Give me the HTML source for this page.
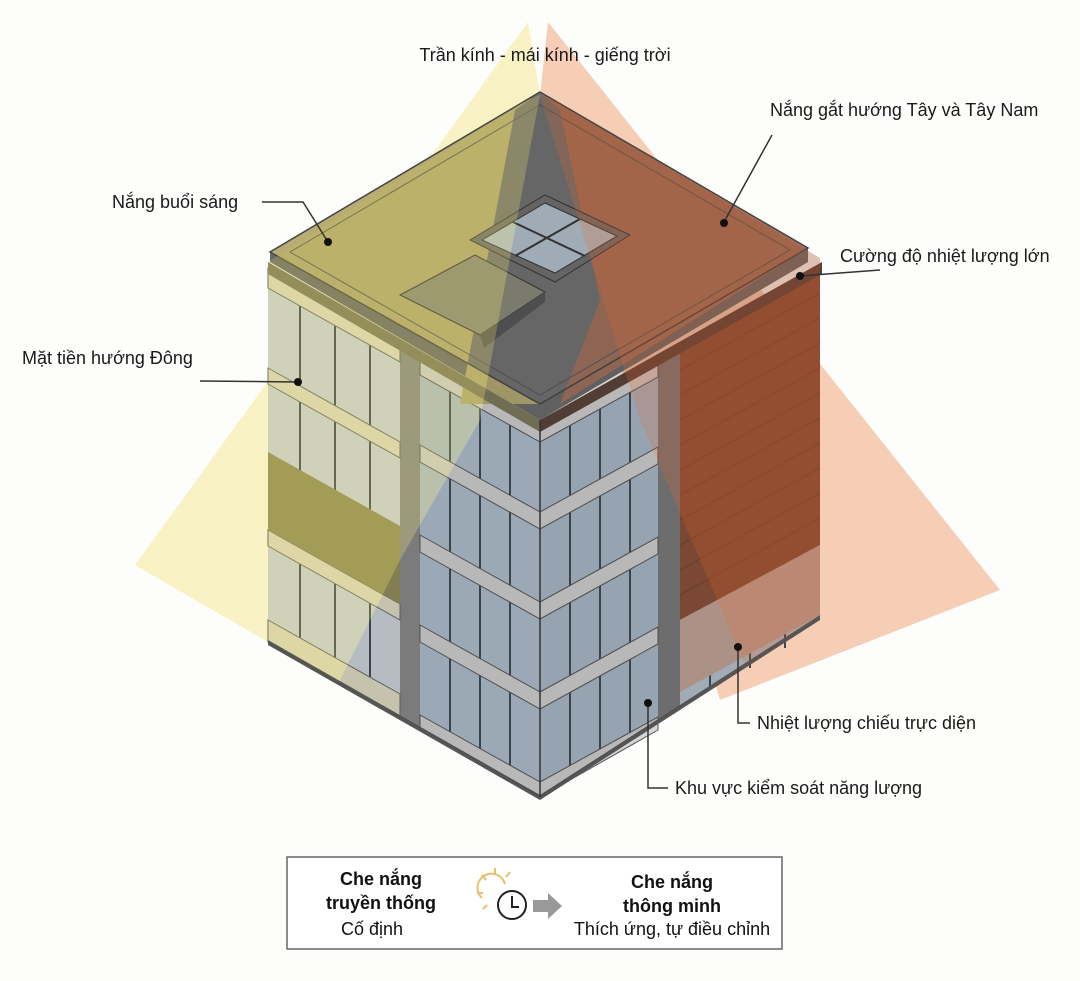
<!DOCTYPE html>
<html><head><meta charset="utf-8"><style>
body{margin:0;background:#fff;width:1080px;height:981px;overflow:hidden;font-family:"Liberation Sans","Noto Sans CJK SC",sans-serif}
svg{position:absolute;left:0;top:0}
</style></head><body>
<svg width="1080" height="981" viewBox="0 0 1080 981" xmlns="http://www.w3.org/2000/svg">
<defs>
<clipPath id="bld"><polygon points="540,92 820,258 820,615 540,797 268,640 268,262"/></clipPath>
</defs>
<rect width="1080" height="981" fill="#fdfdfb"/>
<polygon points="528,22 135,565 420,730 540,95" fill="#f8f2c4"/>
<polygon points="548,22 1000,590 720,700 540,95" fill="#f6cdb5"/>

<g>
<polygon points="268,268 540,420 540,795 268,640" fill="#d3dbe2"/>
<polygon points="540,420 820,265 820,615 540,795" fill="#b9c6d3"/>
<polygon points="420,358 540,425 540,795 420,728" fill="#b3c3d3"/>
<polygon points="540,425 658,360 658,720 540,795" fill="#acbdce"/>
<polygon points="400,342 420,353 420,728 400,716" fill="#8c8c8c"/>
<polygon points="658,355 680,343 680,706 658,720" fill="#7a7a7a"/>
<g stroke="#3d4650" stroke-width="2">
<line x1="450" y1="375" x2="450" y2="745"/><line x1="480" y1="392" x2="480" y2="762"/><line x1="510" y1="408" x2="510" y2="778"/>
<line x1="570" y1="408" x2="570" y2="778"/><line x1="600" y1="392" x2="600" y2="762"/><line x1="630" y1="375" x2="630" y2="745"/>
<line x1="300" y1="285" x2="300" y2="655"/><line x1="335" y1="305" x2="335" y2="675"/><line x1="370" y1="325" x2="370" y2="695"/>
<line x1="710" y1="330" x2="710" y2="690"/><line x1="750" y1="308" x2="750" y2="668"/><line x1="785" y1="288" x2="785" y2="648"/>
</g>
<g fill="#d6d6d6" stroke="#555" stroke-width="1">
<polygon points="420,358 540,425 540,442 420,375"/><polygon points="540,425 658,360 658,377 540,442"/>
<polygon points="420,445 540,512 540,529 420,462"/><polygon points="540,512 658,447 658,464 540,529"/>
<polygon points="420,535 540,602 540,619 420,552"/><polygon points="540,602 658,537 658,554 540,619"/>
<polygon points="420,625 540,692 540,709 420,642"/><polygon points="540,692 658,627 658,644 540,709"/>
<polygon points="420,715 540,782 540,797 420,730"/><polygon points="540,782 658,717 658,730 540,797"/>
</g>
<g fill="#e6e3c8" stroke="#666" stroke-width="1">
<polygon points="268,268 400,342 400,362 268,288"/>
<polygon points="268,368 400,442 400,458 268,384"/>
<polygon points="268,530 400,604 400,620 268,546"/>
<polygon points="268,620 400,694 400,716 268,642"/>
</g>
<polygon points="268,452 400,526 400,604 268,530" fill="#948f58"/>
<polygon points="680,345 820,268 820,545 680,620" fill="#8a4d35"/>
<g stroke="#6e3a26" stroke-width="1" opacity="0.6">
<line x1="680" y1="370" x2="820" y2="293"/><line x1="680" y1="395" x2="820" y2="318"/><line x1="680" y1="420" x2="820" y2="343"/><line x1="680" y1="445" x2="820" y2="368"/><line x1="680" y1="470" x2="820" y2="393"/><line x1="680" y1="495" x2="820" y2="418"/><line x1="680" y1="520" x2="820" y2="443"/><line x1="680" y1="545" x2="820" y2="468"/><line x1="680" y1="570" x2="820" y2="493"/><line x1="680" y1="595" x2="820" y2="518"/>
</g>
<polygon points="680,620 820,545 820,615 680,692" fill="#c7a79a"/>
<polygon points="268,640 540,795 540,800 268,645" fill="#555"/>
<polygon points="540,795 820,615 820,620 540,800" fill="#555"/>
</g>

<polygon points="540,92 808,248 808,262 540,420 270,262 270,252" fill="#6b6b6b"/>
<polygon points="540,92 808,248 540,404 270,252" fill="#727272"/>
<polygon points="540,92 270,252 540,404 460,404 515,110" fill="#b7ad74"/>
<polygon points="540,92 808,248 560,404 600,300 560,110" fill="#a3715b"/>
<polygon points="540,92 808,248 540,404 270,252" fill="none" stroke="#444" stroke-width="1.5"/>
<polygon points="540,105 790,250 540,395 290,252" fill="none" stroke="#555" stroke-width="1"/>
<polygon points="268,262 540,420 540,432 268,274" fill="#7d7a5c"/>
<polygon points="540,420 822,262 822,274 540,432" fill="#5a4036"/>
<polygon points="470,240 545,195 630,235 555,282" fill="#6f6f6f" stroke="#333"/>
<polygon points="482,240 545,203 617,236 555,273" fill="#b8c6d2" stroke="#333"/>
<line x1="513" y1="222" x2="585" y2="256" stroke="#333" stroke-width="2"/>
<line x1="515" y1="256" x2="580" y2="219" stroke="#333" stroke-width="2"/>
<polygon points="400,295 475,255 545,292 480,335" fill="#8b8b7a" stroke="#333"/>
<polygon points="480,335 545,292 545,302 484,348" fill="#555"/>

<g clip-path="url(#bld)">
<polygon points="540,95 480,420 400,560 330,700 200,700 200,250" fill="#c8bd55" opacity="0.3"/>
<polygon points="540,95 480,420 400,560 330,700 540,820 760,700 700,560 640,420" fill="#333" opacity="0.18"/>
<polygon points="540,95 640,420 700,560 760,700 900,700 900,250" fill="#a4502a" opacity="0.35"/>
</g>
<line x1="540" y1="420" x2="540" y2="797" stroke="#333" stroke-width="1.5"/>

<g font-size="18" fill="#1a1a1a">
<text x="545" y="61" text-anchor="middle">Trần kính - mái kính - giếng trời</text>
<text x="770" y="116">Nắng  gắt hướng Tây và Tây Nam</text>
<text x="112" y="208">Nắng buổi sáng</text>
<text x="840" y="262">Cường độ nhiệt lượng lớn</text>
<text x="22" y="364">Mặt tiền hướng Đông</text>
<text x="757" y="729">Nhiệt lượng chiếu trực diện</text>
<text x="675" y="794">Khu vực kiểm soát năng lượng</text>
</g>
<g stroke="#333" stroke-width="1.5" fill="none">
<polyline points="772,135 724,222"/>
<polyline points="262,202 303,202 328,242"/>
<polyline points="880,270 800,276"/>
<polyline points="200,381 298,382"/>
<polyline points="738,647 738,723 750,723"/>
<polyline points="648,703 648,788 668,788"/>
</g>
<g fill="#111">
<circle cx="724" cy="223" r="4"/><circle cx="328" cy="242" r="4"/><circle cx="800" cy="276" r="4"/><circle cx="298" cy="382" r="4"/><circle cx="738" cy="647" r="4"/><circle cx="648" cy="703" r="4"/>
</g>

<rect x="287" y="857" width="495" height="92" fill="#fff" stroke="#666" stroke-width="1.5"/>
<g font-size="18" fill="#111" text-anchor="middle">
<text x="381" y="885" font-weight="bold">Che nắng</text>
<text x="381" y="909" font-weight="bold">truyền thống</text>
<text x="372" y="935">Cố định</text>
<text x="672" y="888" font-weight="bold">Che nắng</text>
<text x="672" y="912" font-weight="bold">thông minh</text>
<text x="672" y="935">Thích ứng, tự điều chỉnh</text>
</g>
<g stroke="#e9c06a" stroke-width="2">
<path d="M482,898 A14,14 0 1 1 505,884" fill="none"/>
<line x1="495" y1="868" x2="495" y2="874"/><line x1="477" y1="893" x2="483" y2="893"/><line x1="482" y1="875" x2="486" y2="880"/><line x1="510" y1="872" x2="506" y2="877"/><line x1="483" y1="909" x2="487" y2="905"/>
</g>
<circle cx="512" cy="905" r="14" fill="#fff" stroke="#222" stroke-width="2"/>
<polyline points="512,896 512,907 519,907" fill="none" stroke="#222" stroke-width="2"/>
<polygon points="533,900 548,900 548,893 562,906 548,919 548,912 533,912" fill="#999"/>
</svg>
</body></html>
